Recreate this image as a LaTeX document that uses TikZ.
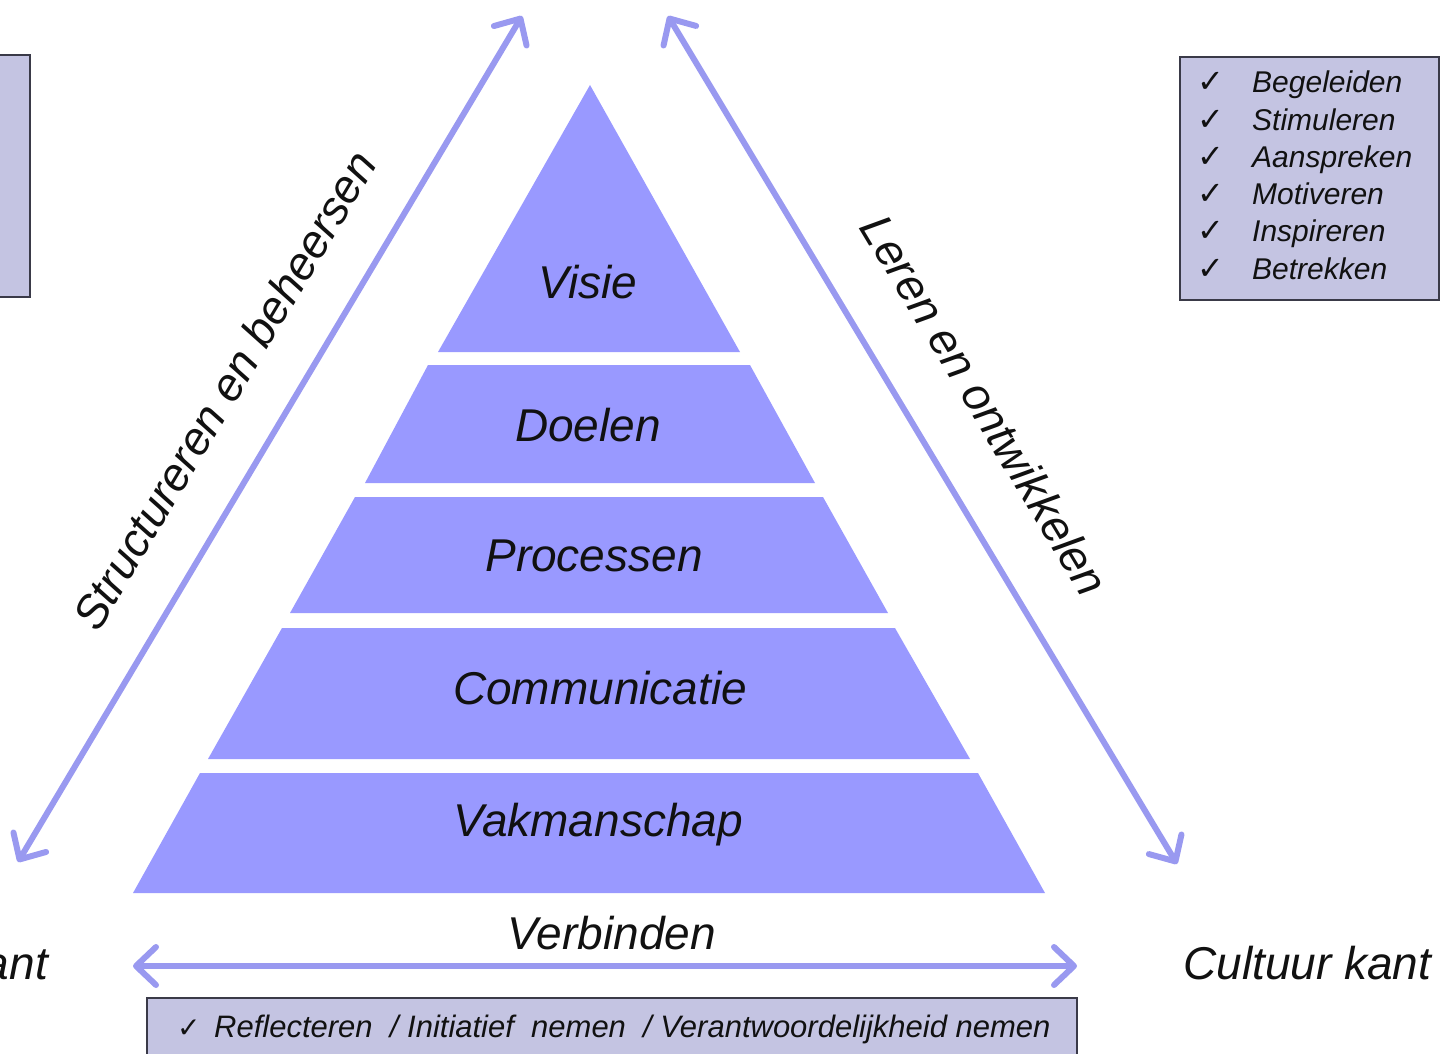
\documentclass[tikz,border=0pt]{standalone}
\usepackage{fontspec}
\setmainfont{Liberation Sans}
\newfontfamily\symfont{DejaVu Sans}
\usetikzlibrary{arrows.meta}
\definecolor{pyr}{HTML}{9999FF}
\definecolor{arr}{HTML}{9999F0}
\definecolor{boxfill}{HTML}{C4C4E2}
\definecolor{boxline}{HTML}{3A3A48}
\definecolor{ink}{HTML}{111111}
\begin{document}
\begin{tikzpicture}[x=1pt,y=-1pt,
  band/.style={fill=pyr},
  lbl/.style={font=\fontsize{46}{50}\selectfont\itshape, text=ink, inner sep=0pt},
  dblarrow/.style={draw=arr, line width=6pt, line cap=round,
    {Straight Barb[length=20pt,width=38pt,round]}-{Straight Barb[length=20pt,width=38pt,round]}},
  infobox/.style={fill=boxfill, draw=boxline, line width=2pt},
  item/.style={font=\fontsize{30}{34}\selectfont\itshape, text=ink, inner sep=0pt, anchor=base west},
  chk/.style={font=\fontsize{32}{34}\symfont, text=ink, inner sep=0pt, anchor=base west},
]
\useasboundingbox (0,0) rectangle (1441,1054);
\clip (0,0) rectangle (1441,1054);

% pyramid bands
\fill[band] (590,85) -- (740,352) -- (438,352) -- cycle;
\fill[band] (428,365) -- (750,365) -- (815,483) -- (365,483) -- cycle;
\fill[band] (355,497) -- (823,497) -- (888,613) -- (290,613) -- cycle;
\fill[band] (282,628) -- (895,628) -- (970,759) -- (208,759) -- cycle;
\fill[band] (200,773) -- (978,773) -- (1045,893) -- (133,893) -- cycle;

\node[lbl, anchor=base] (visie) at (588,298) {Visie};
\node[lbl, anchor=base] (doelen) at (588,441) {Doelen};
\node[lbl, anchor=base] (processen) at (594,571) {Processen};
\node[lbl, anchor=base] (communicatie) at (600,704) {Communicatie};
\node[lbl, anchor=base] (vakmanschap) at (598,836) {Vakmanschap};

% arrows
\coordinate (lb) at (18,862);
\coordinate (lt) at (522,16);
\coordinate (rt) at (668,16);
\coordinate (rb) at (1177,864);
\coordinate (hl) at (133,966);
\coordinate (hr) at (1077,966);
\draw[dblarrow] (lb) -- (lt);
\draw[dblarrow] (rt) -- (rb);
\draw[dblarrow] (hl) -- (hr);

\node[lbl, rotate=59.2] (struct) at (224,390) {Structureren en beheersen};
\node[lbl, rotate=-59] (leren) at (985,405) {Leren en ontwikkelen};
\node[lbl, anchor=base] (verbinden) at (612,949) {Verbinden};
\node[lbl, anchor=base west] (cultuur) at (1183,979) {Cultuur kant};
\node[lbl, anchor=base east] (antl) at (48,979) {ant};

% left box
\draw[infobox] (-10,55) rectangle (30,297);

% right box
\draw[infobox] (1180,57) rectangle (1439,300);
\foreach \t [count=\i from 0] in {Begeleiden,Stimuleren,Aanspreken,Motiveren,Inspireren,Betrekken}{
  \node[chk] (c\i) at (1197,{93+37.2*\i}) {✓};
  \node[item] (t\i) at (1252,{93+37.2*\i}) {\t};
}

% bottom box
\draw[infobox] (147,998) rectangle (1077,1070);
\node[chk, font=\fontsize{28}{30}\symfont] (cb) at (177,1037) {✓};
\node[item, font=\fontsize{31}{34}\selectfont\itshape] (bt) at (214,1037) {Reflecteren\ \ / Initiatief\ \ nemen\ \ / Verantwoordelijkheid nemen};
\end{tikzpicture}
\end{document}
